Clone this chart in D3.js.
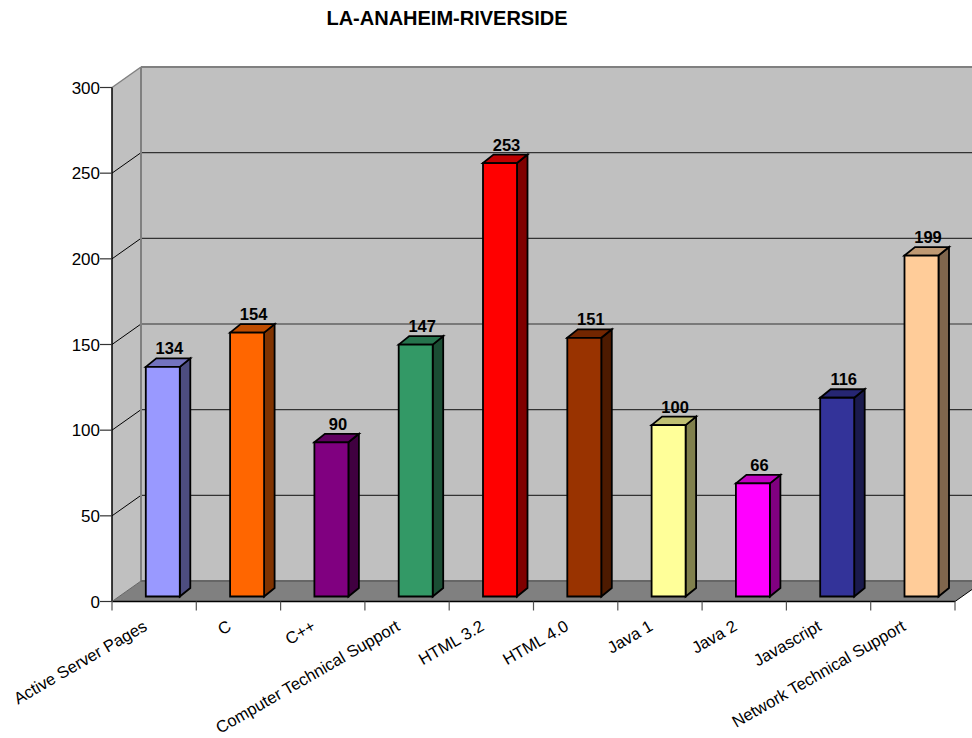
<!DOCTYPE html>
<html><head><meta charset="utf-8">
<style>html,body{margin:0;padding:0;background:#fff;overflow:hidden}svg{display:block}text{font-family:"Liberation Sans",Arial,sans-serif;fill:#000}</style>
<script src="https://cdn.jsdelivr.net/npm/d3@7"></script></head><body>
<script>
const title = "LA-ANAHEIM-RIVERSIDE";
const categories = ["Active Server Pages","C","C++","Computer Technical Support","HTML 3.2","HTML 4.0","Java 1","Java 2","Javascript","Network Technical Support"];
const values = [134,154,90,147,253,151,100,66,116,199];
const colors = ["#9999FF","#FF6600","#800080","#339966","#FF0000","#993300","#FFFF99","#FF00FF","#333399","#FFCC99"];
const yTicks = [0,50,100,150,200,250,300];

const W=972,H=738;
const svg=d3.select("body").append("svg").attr("width",W).attr("height",H);
const x=d3.scaleBand().domain(categories).range([112,955]);
const y=d3.scaleLinear().domain([0,300]).range([601.5,87.5]);
const dx=29,dy=-20.5;      // depth of the chart box
const bdx=10.5,bdy=-8.5;   // depth of a bar
const barW=34, barInset=33.8, baseOff=-5;
const x0=x.range()[0],x1=x.range()[1],yb=y(0),yt=y(300);
const poly=(pts,fill,stroke,sw)=>svg.append("polygon").attr("points",pts.map(p=>p.join(",")).join(" ")).attr("fill",fill).attr("stroke",stroke||"none").attr("stroke-width",sw||0).attr("stroke-linejoin","miter");
const line=(a,b,c,w)=>svg.append("line").attr("x1",a[0]).attr("y1",a[1]).attr("x2",b[0]).attr("y2",b[1]).attr("stroke",c).attr("stroke-width",w);

// walls and floor
poly([[x0+dx,yt+dy],[x1+dx,yt+dy],[x1+dx,yb+dy],[x0+dx,yb+dy]],"#C0C0C0");
poly([[x0,yt],[x0+dx,yt+dy],[x0+dx,yb+dy],[x0,yb]],"#C0C0C0");
poly([[x0,yb],[x0+dx,yb+dy],[x1+dx,yb+dy],[x1,yb]],"#808080");

// gridlines
yTicks.slice(1,-1).forEach(t=>{
  line([x0,y(t)],[x0+dx,y(t)+dy],"#000",1);
  line([x0+dx,y(t)+dy],[x1+dx,y(t)+dy],"#333",1.2);
});
// wall edges
line([x0+dx,yt+dy],[x1+dx,yt+dy],"#808080",2);
line([x0+dx,yt+dy],[x0+dx,yb+dy],"#808080",2);
line([x0+dx,yb+dy],[x1+dx,yb+dy],"#666",2);
line([x0,yt],[x0+dx,yt+dy],"#808080",1.5);

// axes
line([x0,yt],[x0,yb],"#000",1.5);
line([x0,yb],[x1,yb],"#000",1.5);
line([x0,yb],[x0+dx,yb+dy],"#666",1);
line([x1,yb],[x1+dx,yb+dy],"#000",1);
yTicks.forEach(t=>{
  line([x0-12,y(t)],[x0,y(t)],"#333",1.2);
  svg.append("text").attr("x",x0-12).attr("y",y(t)+6).attr("text-anchor","end").attr("font-size",17).text(t);
});
const edges=categories.map(c=>x(c)).concat([x1]);
edges.forEach(e=>line([e,yb],[e,yb+9],"#555",1.2));

// bars
categories.forEach((c,i)=>{
  const v=values[i],col=d3.color(colors[i]);
  const l=x(c)+barInset,r=l+barW,b=y(0)+baseOff,t=b-(y(0)-y(v));
  const sw=1.8,st="#000";
  poly([[r,t],[r+bdx,t+bdy],[r+bdx,b+bdy],[r,b]],"#000",st,sw)
    .attr("fill",d3.rgb(col.r*.5,col.g*.5,col.b*.5));
  poly([[l,t],[l+bdx,t+bdy],[r+bdx,t+bdy],[r,t]],"#000",st,sw)
    .attr("fill",d3.rgb(col.r*.75,col.g*.75,col.b*.75));
  poly([[l,t],[r,t],[r,b],[l,b]],colors[i],st,sw);
  svg.append("text").attr("x",l+23.5).attr("y",t-12.5).attr("text-anchor","middle")
    .attr("font-size",16.5).attr("font-weight","bold").text(v);
  const ax=x(c)+x.bandwidth()/2-6, ay=yb+28;
  svg.append("text").attr("transform",`translate(${ax},${ay}) rotate(-30)`).attr("text-anchor","end")
    .attr("font-size",16.6).text(c);
});
svg.append("text").attr("x",447).attr("y",25).attr("text-anchor","middle").attr("font-size",20).attr("font-weight","bold").text(title);
</script></body></html>
